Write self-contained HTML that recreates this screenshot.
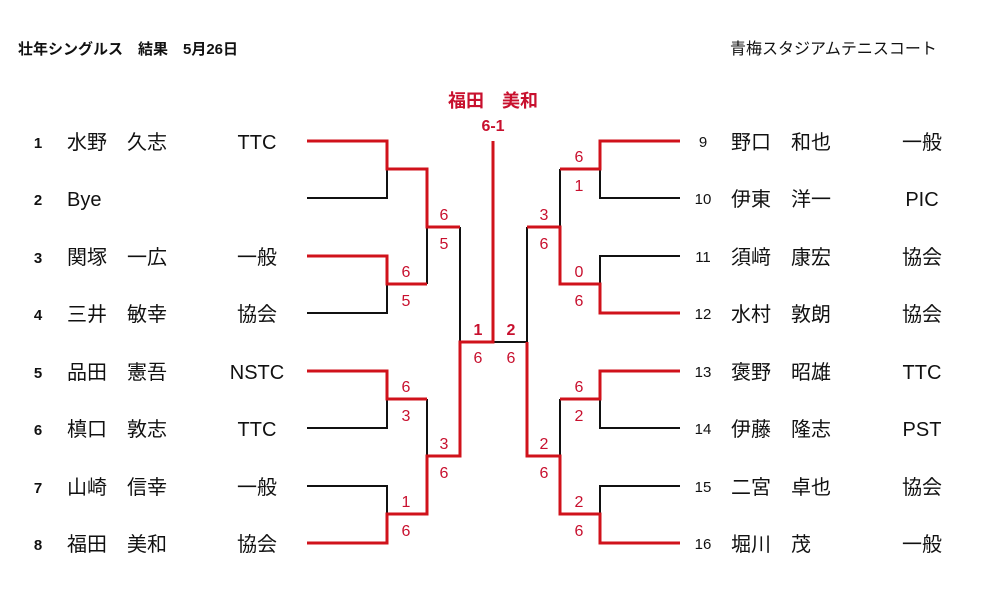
<!DOCTYPE html>
<html><head><meta charset="utf-8"><style>
html,body{margin:0;padding:0;background:#fff;width:1000px;height:605px;overflow:hidden}
svg{display:block}
text{font-family:"Liberation Sans","Noto Sans CJK JP",sans-serif}
.n{font-size:20px;fill:#111}
.num{font-size:15px;font-weight:bold;fill:#111}
.rn{font-size:15px;fill:#111}
.s{font-size:16px;fill:#c8102e;text-anchor:middle}
.k{stroke:#111;stroke-width:2;fill:none}
.r{stroke:#d0121b;stroke-width:3;fill:none}
</style></head><body>
<svg width="1000" height="605" viewBox="0 0 1000 605">
<text x="18" y="54" style="font-size:15px;font-weight:bold;fill:#111">壮年シングルス　結果　5月26日</text>
<text x="730" y="54" style="font-size:16px;fill:#111">青梅スタジアムテニスコート</text>
<text x="493" y="107" text-anchor="middle" style="font-size:18px;font-weight:bold;fill:#c8102e">福田　美和</text>
<text x="493" y="131" text-anchor="middle" style="font-size:16px;font-weight:bold;fill:#c8102e">6-1</text>

<g class="num" text-anchor="middle">
<text x="38" y="148">1</text><text x="38" y="205">2</text><text x="38" y="263">3</text><text x="38" y="320">4</text>
<text x="38" y="378">5</text><text x="38" y="435">6</text><text x="38" y="493">7</text><text x="38" y="550">8</text>
</g>
<g class="n">
<text x="67" y="149">水野　久志</text><text x="67" y="206">Bye</text><text x="67" y="264">関塚　一広</text><text x="67" y="321">三井　敏幸</text>
<text x="67" y="379">品田　憲吾</text><text x="67" y="436">槙口　敦志</text><text x="67" y="494">山崎　信幸</text><text x="67" y="551">福田　美和</text>
</g>
<g class="n" text-anchor="middle">
<text x="257" y="149">TTC</text><text x="257" y="264">一般</text><text x="257" y="321">協会</text>
<text x="257" y="379">NSTC</text><text x="257" y="436">TTC</text><text x="257" y="494">一般</text><text x="257" y="551">協会</text>
</g>
<g class="rn" text-anchor="middle">
<text x="703" y="147">9</text><text x="703" y="204">10</text><text x="703" y="262">11</text><text x="703" y="319">12</text>
<text x="703" y="377">13</text><text x="703" y="434">14</text><text x="703" y="492">15</text><text x="703" y="549">16</text>
</g>
<g class="n">
<text x="731" y="149">野口　和也</text><text x="731" y="206">伊東　洋一</text><text x="731" y="264">須﨑　康宏</text><text x="731" y="321">水村　敦朗</text>
<text x="731" y="379">褒野　昭雄</text><text x="731" y="436">伊藤　隆志</text><text x="731" y="494">二宮　卓也</text><text x="731" y="551">堀川　茂</text>
</g>
<g class="n" text-anchor="middle">
<text x="922" y="149">一般</text><text x="922" y="206">PIC</text><text x="922" y="264">協会</text><text x="922" y="321">協会</text>
<text x="922" y="379">TTC</text><text x="922" y="436">PST</text><text x="922" y="494">協会</text><text x="922" y="551">一般</text>
</g>

<path class="k" d="M307 198H387V169 M307 313H387V284 M307 428H387V399 M307 486H387V514
M427 227V284 M427 399V456 M460 227V342
M680 198H600V169 M680 256H600V284 M680 428H600V399 M680 486H600V514
M560 169V227 M560 399V456 M527 227V342 M493 342H527"/>
<path class="r" d="M307 141H387V169H427V227H460
M307 256H387V284H427
M307 371H387V399H427
M307 543H387V514H427V456H460V342H493V141
M680 141H600V169H560
M680 313H600V284H560V227H527
M680 371H600V399H560
M680 543H600V514H560V456H527V342"/>

<g class="s">
<text x="444" y="220">6</text><text x="444" y="249">5</text>
<text x="406" y="277">6</text><text x="406" y="306">5</text>
<text x="406" y="392">6</text><text x="406" y="421">3</text>
<text x="444" y="449">3</text><text x="444" y="478">6</text>
<text x="406" y="507">1</text><text x="406" y="536">6</text>
<text x="579" y="162">6</text><text x="579" y="191">1</text>
<text x="544" y="220">3</text><text x="544" y="249">6</text>
<text x="579" y="277">0</text><text x="579" y="306">6</text>
<text x="579" y="392">6</text><text x="579" y="421">2</text>
<text x="544" y="449">2</text><text x="544" y="478">6</text>
<text x="579" y="507">2</text><text x="579" y="536">6</text>
<text x="478" y="335" style="font-weight:bold">1</text><text x="511" y="335" style="font-weight:bold">2</text>
<text x="478" y="363">6</text><text x="511" y="363">6</text>
</g>
</svg>
</body></html>
